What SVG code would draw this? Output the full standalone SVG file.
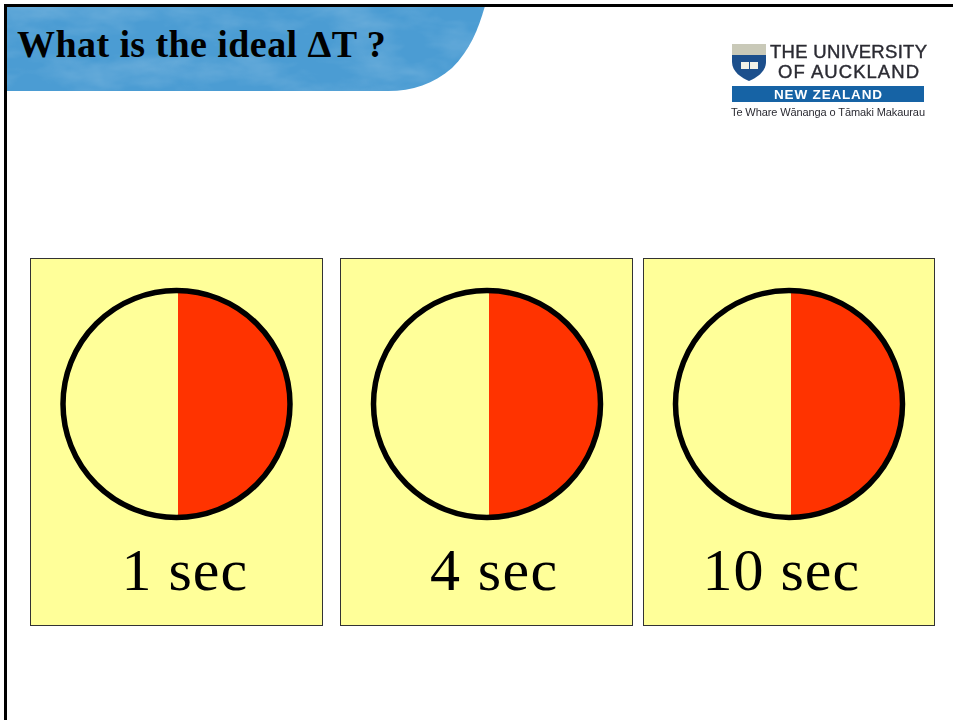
<svg xmlns="http://www.w3.org/2000/svg" width="953" height="720" viewBox="0 0 953 720">
<defs>
<style>
.panel{fill:#ffff99;stroke:#333;stroke-width:1}
.half{fill:#ff3300}
.ring{fill:none;stroke:#000;stroke-width:5.500}
.lbl{font-family:"Liberation Serif",serif;font-size:60px;letter-spacing:1px;fill:#000}
.logo{font-family:"Liberation Sans",sans-serif;fill:#2b2b33}
</style>
<filter id="cloud" x="0" y="0" width="100%" height="100%">
<feTurbulence type="fractalNoise" baseFrequency="0.015 0.035" numOctaves="4" seed="5"/>
<feColorMatrix values="0 0 0 0 1  0 0 0 0 1  0 0 0 0 1  1.2 0 0 0 -0.5"/>
<feComposite in2="SourceGraphic" operator="in"/>
</filter>
<filter id="soft" x="-2%" y="-2%" width="104%" height="104%"><feGaussianBlur stdDeviation="0.4"/></filter>
</defs>
<rect width="953" height="720" fill="#fff"/>
<g id="header">
<path d="M6 6H485C478 30 470 50 452 68C434 84 412 91 388 91H6Z" fill="#4b9cd3"/>
<path d="M6 6H485C478 30 470 50 452 68C434 84 412 91 388 91H6Z" fill="#4b9cd3" filter="url(#cloud)" opacity=".28"/>
<path d="M5.500 720V5.500H953" fill="none" stroke="#000" stroke-width="3"/>
<text x="17" y="56.500" font-family="'Liberation Serif',serif" font-weight="bold" font-size="38px" letter-spacing=".42" fill="#000">What is the ideal ΔT ?</text>
</g>
<g id="logo" filter="url(#soft)">
<path d="M732 44H766V62C766 72 756 78 749 81C742 78 732 72 732 62Z" fill="#1d4f8c"/>
<rect x="732" y="44" width="34" height="11" fill="#c9c9b8"/>
<path d="M741 62h8v7h-8zM750 62h8v7h-8z" fill="#f2f2e8"/>
<text class="logo" x="770" y="58" font-size="18.500px" textLength="157" stroke="#2b2b33" stroke-width=".4">THE UNIVERSITY</text>
<text class="logo" x="778" y="78" font-size="18.500px" textLength="141" stroke="#2b2b33" stroke-width=".4">OF AUCKLAND</text>
<rect x="732" y="86" width="192" height="16" fill="#1464a5"/>
<text x="774" y="99" font-family="'Liberation Sans',sans-serif" font-weight="bold" font-size="13.500px" fill="#fff" textLength="108">NEW ZEALAND</text>
<text class="logo" x="731" y="116" font-size="11px" textLength="194">Te Whare Wānanga o Tāmaki Makaurau</text>
</g>
<g id="panel-1">
<rect class="panel" x="30.500" y="258.500" width="292" height="367"/>
<path class="half" d="M178 291A113 113 0 0 1 178 517Z"/>
<circle class="ring" cx="176.500" cy="404" r="113.500"/>
<text class="lbl" x="121.500" y="590">1 sec</text>
</g>
<g id="panel-2">
<rect class="panel" x="340.500" y="258.500" width="292" height="367"/>
<path class="half" d="M489 291A113 113 0 0 1 489 517Z"/>
<circle class="ring" cx="487" cy="404" r="113.500"/>
<text class="lbl" x="430" y="590" style="letter-spacing:1.400px">4 sec</text>
</g>
<g id="panel-3">
<rect class="panel" x="643.500" y="258.500" width="291" height="367"/>
<path class="half" d="M791 291A113 113 0 0 1 791 517Z"/>
<circle class="ring" cx="789" cy="404" r="113.500"/>
<text class="lbl" x="702.500" y="590">10 sec</text>
</g>
<g id="connectors"/>
</svg>
